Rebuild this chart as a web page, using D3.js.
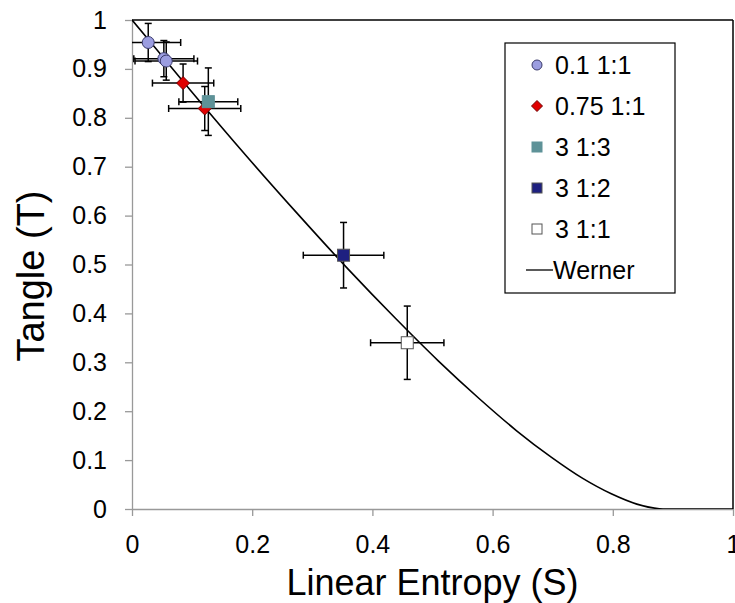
<!DOCTYPE html>
<html><head><meta charset="utf-8">
<script src="https://cdn.jsdelivr.net/npm/d3@7"></script>
<style>body{margin:0;background:#fff;} text{font-family:"Liberation Sans",Arial,sans-serif;}</style>
</head><body><svg id="c" width="735" height="603"></svg>
<script>
// Data
const xTicks = [0, 0.2, 0.4, 0.6, 0.8, 1];
const yTicks = [0, 0.1, 0.2, 0.3, 0.4, 0.5, 0.6, 0.7, 0.8, 0.9, 1];
const seriesNames = ["0.1 1:1", "0.75 1:1", "3 1:3", "3 1:2", "3 1:1"];
// 0.1 1:1
const s1X = [0.027, 0.053, 0.057], s1Y = [0.954, 0.921, 0.916], s1Xe = [0.054, 0.05, 0.052], s1Ye = [0.039, 0.037, 0.039];
// 0.75 1:1
const s2X = [0.085, 0.121], s2Y = [0.871, 0.819], s2Xe = [0.051, 0.06], s2Ye = [0.039, 0.045];
// 3 1:3
const s3X = [0.127], s3Y = [0.833], s3Xe = [0.049], s3Ye = [0.069];
// 3 1:2
const s4X = [0.352], s4Y = [0.519], s4Xe = [0.067], s4Ye = [0.067];
// 3 1:1
const s5X = [0.458], s5Y = [0.340], s5Xe = [0.061], s5Ye = [0.075];
// Werner curve
const wernerS = [0, 0.04, 0.0975, 0.19, 0.2775, 0.36, 0.4375, 0.51, 0.5775, 0.64, 0.6975, 0.75, 0.7975, 0.84, 0.8775, 0.889, 1.0];
const wernerT = [1, 0.941, 0.856, 0.7225, 0.601, 0.49, 0.391, 0.3025, 0.226, 0.16, 0.106, 0.0625, 0.031, 0.01, 0.0006, 0, 0];

const svg = d3.select("#c");
const L = 132, R = 733, T = 20, B = 509;
const x = d3.scaleLinear().domain([0, 1]).range([L, R]);
const y = d3.scaleLinear().domain([0, 1]).range([B, T]);

svg.append("defs").append("clipPath").attr("id", "pc").append("rect")
  .attr("x", L).attr("y", T - 1).attr("width", R - L).attr("height", B - T + 1);

// axes
const xa = svg.append("g").attr("transform", `translate(0,${B})`)
  .call(d3.axisBottom(x).tickValues(xTicks).tickFormat(d3.format("~g")).tickSizeOuter(0).tickSizeInner(7).tickPadding(19));
const ya = svg.append("g").attr("transform", `translate(${L},0)`)
  .call(d3.axisLeft(y).tickValues(yTicks).tickFormat(d3.format("~g")).tickSizeOuter(0).tickSizeInner(7).tickPadding(18));
[xa, ya].forEach(a => {
  a.selectAll("path,line").attr("stroke", "#999").attr("stroke-width", 1.3);
  a.selectAll("text").attr("fill", "#000").attr("font-size", 25).attr("font-family", "Liberation Sans, Arial, sans-serif");
});
// top & right border
svg.append("line").attr("x1", L).attr("x2", R).attr("y1", T).attr("y2", T).attr("stroke", "#000").attr("stroke-width", 1.5);
svg.append("line").attr("x1", R).attr("x2", R).attr("y1", T).attr("y2", B).attr("stroke", "#000").attr("stroke-width", 1.5);

const plot = svg.append("g").attr("clip-path", "url(#pc)");

// Werner
const wData = wernerS.map((s, i) => [s, wernerT[i]]);
plot.append("path").datum(wData)
  .attr("d", d3.line().x(d => x(d[0])).y(d => y(d[1])).curve(d3.curveMonotoneX))
  .attr("fill", "none").attr("stroke", "#000").attr("stroke-width", 1.6);

const series = [
  {X: s1X, Y: s1Y, Xe: s1Xe, Ye: s1Ye, type: "circle", fill: "#9b9de0", stroke: "#3a3a6a"},
  {X: s2X, Y: s2Y, Xe: s2Xe, Ye: s2Ye, type: "diamond", fill: "#e00000", stroke: "#700000"},
  {X: s3X, Y: s3Y, Xe: s3Xe, Ye: s3Ye, type: "square", fill: "#5e9298", stroke: "#5e9298"},
  {X: s4X, Y: s4Y, Xe: s4Xe, Ye: s4Ye, type: "square", fill: "#1e2080", stroke: "#555"},
  {X: s5X, Y: s5Y, Xe: s5Xe, Ye: s5Ye, type: "square", fill: "#ffffff", stroke: "#555"}
];
const cap = 3.5;
function marker(g, type, cx, cy, size, fill, stroke) {
  if (type === "circle") {
    g.append("circle").attr("cx", cx).attr("cy", cy).attr("r", size / 2)
      .attr("fill", fill).attr("stroke", stroke).attr("stroke-width", 1);
  } else if (type === "diamond") {
    const h = size / 2;
    g.append("path").attr("d", `M${cx},${cy - h}L${cx + h},${cy}L${cx},${cy + h}L${cx - h},${cy}Z`)
      .attr("fill", fill).attr("stroke", stroke).attr("stroke-width", 1);
  } else {
    g.append("rect").attr("x", cx - size / 2).attr("y", cy - size / 2).attr("width", size).attr("height", size)
      .attr("fill", fill).attr("stroke", stroke).attr("stroke-width", 1);
  }
}
// error bars first
series.forEach(s => {
  s.X.forEach((xv, i) => {
    const cx = x(xv), cy = y(s.Y[i]);
    const x0 = x(xv - s.Xe[i]), x1 = x(xv + s.Xe[i]);
    const y0 = y(s.Y[i] - s.Ye[i]), y1 = y(s.Y[i] + s.Ye[i]);
    const g = plot.append("g").attr("stroke", "#000").attr("stroke-width", 1.5);
    g.append("line").attr("x1", x0).attr("x2", x1).attr("y1", cy).attr("y2", cy);
    g.append("line").attr("x1", x0).attr("x2", x0).attr("y1", cy - cap).attr("y2", cy + cap);
    g.append("line").attr("x1", x1).attr("x2", x1).attr("y1", cy - cap).attr("y2", cy + cap);
    g.append("line").attr("x1", cx).attr("x2", cx).attr("y1", y0).attr("y2", y1);
    g.append("line").attr("x1", cx - cap).attr("x2", cx + cap).attr("y1", y0).attr("y2", y0);
    g.append("line").attr("x1", cx - cap).attr("x2", cx + cap).attr("y1", y1).attr("y2", y1);
  });
});
// markers
series.forEach(s => {
  s.X.forEach((xv, i) => {
    const sz = s.type === "diamond" ? 13 : 12;
    marker(plot, s.type, x(xv), y(s.Y[i]), sz, s.fill, s.stroke);
  });
});

// axis titles
svg.append("text").attr("x", (L + R) / 2).attr("y", 595).attr("text-anchor", "middle")
  .attr("font-size", 36).text("Linear Entropy (S)");
svg.append("text").attr("transform", `translate(44,276) rotate(-90)`).attr("text-anchor", "middle")
  .attr("font-size", 38).text("Tangle (T)");

// legend
const lg = svg.append("g");
lg.append("rect").attr("x", 505).attr("y", 43).attr("width", 170).attr("height", 250)
  .attr("fill", "#fff").attr("stroke", "#000").attr("stroke-width", 1.2);
const legendItems = seriesNames.concat(["Werner"]);
legendItems.forEach((name, i) => {
  const cy = 65 + i * 41;
  if (i < series.length) {
    const s = series[i];
    const sz = s.type === "circle" ? 10 : (s.type === "diamond" ? 11 : 10);
    marker(lg, s.type, 537, cy, sz, s.fill, s.stroke);
    lg.append("text").attr("x", 555).attr("y", cy).attr("dy", "0.36em").attr("font-size", 25).text(name);
  } else {
    lg.append("line").attr("x1", 526).attr("x2", 553).attr("y1", cy).attr("y2", cy).attr("stroke", "#000").attr("stroke-width", 1.3);
    lg.append("text").attr("x", 553).attr("y", cy).attr("dy", "0.36em").attr("font-size", 25).text(name);
  }
});
</script></body></html>
